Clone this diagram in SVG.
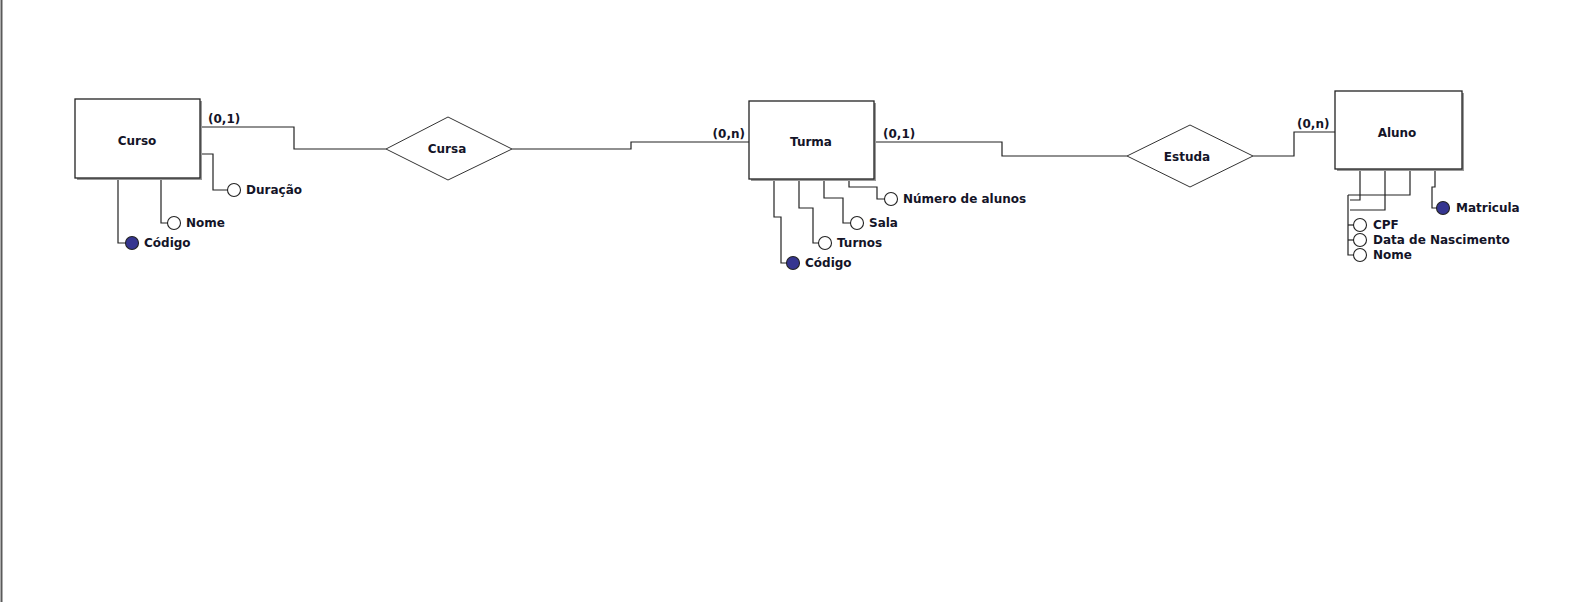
<svg xmlns="http://www.w3.org/2000/svg" width="1577" height="602" viewBox="0 0 1577 602">
  <defs>
    <style>
      .lbl { font-family: "DejaVu Sans", "Liberation Sans", sans-serif; font-weight: bold; font-size: 12px; fill: #141428; }
      .name { text-anchor: middle; dominant-baseline: central; }
      .ent { fill: #ffffff; stroke: #222222; stroke-width: 1.3; }
      .shadow { fill: #9a9a9a; }
      .rel { fill: #ffffff; stroke: #333333; stroke-width: 1; }
      .wire { fill: none; stroke: #222222; stroke-width: 1.2; }
      .att { fill: #ffffff; stroke: #222222; stroke-width: 1.1; }
      .key { fill: #353590; stroke: #222222; stroke-width: 1.1; }
    </style>
  </defs>

  <rect x="0" y="0" width="1577" height="602" fill="#ffffff"/>
  <line x1="1.5" y1="0" x2="1.5" y2="602" stroke="#5a5a5a" stroke-width="2"/>

  <!-- connectors: relationship links and attribute leads -->
  <g id="connectors">
    <polyline class="wire" points="200,127 294,127 294,149 386,149"/>
    <polyline class="wire" points="512,149 631,149 631,142 749,142"/>
    <polyline class="wire" points="874,142 1002,142 1002,156 1127,156"/>
    <polyline class="wire" points="1253,156 1294,156 1294,132 1335,132"/>

    <!-- Curso attributes -->
    <polyline class="wire" points="200,154 213,154 213,190 228,190"/>
    <polyline class="wire" points="161,178 161,223 168,223"/>
    <polyline class="wire" points="118,178 118,243 126,243"/>

    <!-- Turma attributes -->
    <polyline class="wire" points="774,179 774,217 781,217 781,263 787,263"/>
    <polyline class="wire" points="799,179 799,208 813,208 813,243 819,243"/>
    <polyline class="wire" points="824,179 824,198 843,198 843,223 851,223"/>
    <polyline class="wire" points="849,179 849,187 877,187 877,199 885,199"/>

    <!-- Aluno attributes -->
    <polyline class="wire" points="1435,169 1435,187 1432,187 1432,208 1437,208"/>
    <polyline class="wire" points="1410,169 1410,195 1348,195"/>
    <polyline class="wire" points="1360,169 1360,200 1350,200"/>
    <polyline class="wire" points="1385,169 1385,210 1350,210"/>
    <polyline class="wire" points="1348,195 1348,255 1354,255"/>
    <line class="wire" x1="1348" y1="225" x2="1354" y2="225"/>
    <line class="wire" x1="1348" y1="240" x2="1354" y2="240"/>

    <text class="lbl" x="208" y="123">(0,1)</text>
    <text class="lbl" x="745" y="138" text-anchor="end">(0,n)</text>
    <text class="lbl" x="883" y="138">(0,1)</text>
    <text class="lbl" x="1297" y="128">(0,n)</text>
  </g>

  <g id="curso">
    <rect class="shadow" x="77" y="101" width="125" height="79"/>
    <rect class="ent" x="75" y="99" width="125" height="79"/>
    <text class="lbl name" x="137" y="141">Curso</text>
  </g>
  <g id="curso-duracao">
    <circle class="att" cx="234" cy="190" r="6.5"/>
    <text class="lbl" x="246" y="194">Duração</text>
  </g>
  <g id="curso-nome">
    <circle class="att" cx="174" cy="223" r="6.5"/>
    <text class="lbl" x="186" y="227">Nome</text>
  </g>
  <g id="curso-codigo">
    <circle class="key" cx="132" cy="243" r="6.5"/>
    <text class="lbl" x="144" y="247">Código</text>
  </g>

  <g id="cursa">
    <polygon class="rel" points="386,149 448,117 512,149 448,180"/>
    <text class="lbl name" x="447" y="149">Cursa</text>
  </g>

  <g id="turma">
    <rect class="shadow" x="751" y="103" width="125" height="78"/>
    <rect class="ent" x="749" y="101" width="125" height="78"/>
    <text class="lbl name" x="811" y="142">Turma</text>
  </g>
  <g id="turma-numero">
    <circle class="att" cx="891" cy="199" r="6.5"/>
    <text class="lbl" x="903" y="203">Número de alunos</text>
  </g>
  <g id="turma-sala">
    <circle class="att" cx="857" cy="223" r="6.5"/>
    <text class="lbl" x="869" y="227">Sala</text>
  </g>
  <g id="turma-turnos">
    <circle class="att" cx="825" cy="243" r="6.5"/>
    <text class="lbl" x="837" y="247">Turnos</text>
  </g>
  <g id="turma-codigo">
    <circle class="key" cx="793" cy="263" r="6.5"/>
    <text class="lbl" x="805" y="267">Código</text>
  </g>

  <g id="estuda">
    <polygon class="rel" points="1127,156 1190,125 1253,156 1190,187"/>
    <text class="lbl name" x="1187" y="157">Estuda</text>
  </g>

  <g id="aluno">
    <rect class="shadow" x="1337" y="93" width="127" height="78"/>
    <rect class="ent" x="1335" y="91" width="127" height="78"/>
    <text class="lbl name" x="1397" y="133">Aluno</text>
  </g>
  <g id="aluno-matricula">
    <circle class="key" cx="1443" cy="208" r="6.5"/>
    <text class="lbl" x="1456" y="212">Matricula</text>
  </g>
  <g id="aluno-cpf">
    <circle class="att" cx="1360" cy="225" r="6.5"/>
    <text class="lbl" x="1373" y="229">CPF</text>
  </g>
  <g id="aluno-nascimento">
    <circle class="att" cx="1360" cy="240" r="6.5"/>
    <text class="lbl" x="1373" y="244">Data de Nascimento</text>
  </g>
  <g id="aluno-nome">
    <circle class="att" cx="1360" cy="255" r="6.5"/>
    <text class="lbl" x="1373" y="259">Nome</text>
  </g>
</svg>
